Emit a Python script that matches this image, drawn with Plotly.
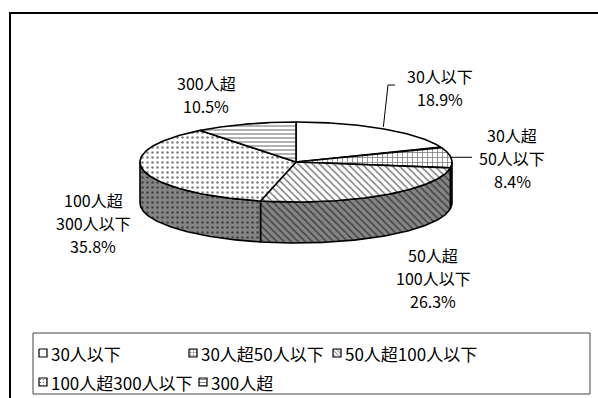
import numpy as np
import plotly.graph_objects as go

# --- data -------------------------------------------------------------
categories = ["30人以下", "30人超50人以下", "50人超100人以下", "100人超300人以下", "300人超"]
shares = [18.9, 8.4, 26.3, 35.8, 10.5]
slice_labels = ["30人以下", "30人超<br>50人以下", "50人超<br>100人以下", "100人超<br>300人以下", "300人超"]

# --- styling ----------------------------------------------------------
FONT = "Noto Sans CJK JP"
W, H = 598, 398
CX, CY = 296, 162          # centre of the top face
RX, RY = 156, 40           # radii of the tilted top ellipse
DEPTH = 41                 # thickness of the cake
LINE_GAP = 23              # spacing between label lines

top_patterns = [
    dict(shape="", bgcolor="white", fgcolor="black"),
    dict(shape="+", bgcolor="white", fgcolor="black", size=5, solidity=0.3),
    dict(shape="\\", bgcolor="white", fgcolor="black", size=5, solidity=0.3),
    dict(shape=".", bgcolor="white", fgcolor="black", size=5, solidity=0.2),
    dict(shape="-", bgcolor="white", fgcolor="black", size=4, solidity=0.3),
]
side_bg = "#858585"

# label anchors: centre x and centre of the first line
label_pos = [(440, 76), (512, 135), (433, 255), (93, 200), (206, 83)]


def rim(t0, t1, n=120):
    t = np.radians(np.linspace(t0, t1, n))
    return CX + RX * np.sin(t), CY - RY * np.cos(t)


total = sum(shares)
edges = np.concatenate([[0], np.cumsum(shares) / total * 360])

fig = go.Figure()

# side walls (only the front half of the cake is visible)
for i in range(len(shares)):
    a, b = max(edges[i], 90), min(edges[i + 1], 270)
    if b <= a:
        continue
    xs, ys = rim(a, b)
    px = np.concatenate([xs, xs[::-1], xs[:1]])
    py = np.concatenate([ys, ys[::-1] + DEPTH, ys[:1]])
    pat = dict(top_patterns[i])
    pat["bgcolor"] = side_bg
    fig.add_trace(go.Scatter(
        x=px, y=py, mode="lines", fill="toself", fillcolor=side_bg,
        fillpattern=pat, line=dict(color="black", width=1.6),
        hoverinfo="skip", showlegend=False))

# top faces
for i in range(len(shares)):
    xs, ys = rim(edges[i], edges[i + 1])
    px = np.concatenate([[CX], xs, [CX]])
    py = np.concatenate([[CY], ys, [CY]])
    fig.add_trace(go.Scatter(
        x=px, y=py, mode="lines", fill="toself", fillcolor="white",
        fillpattern=top_patterns[i], line=dict(color="black", width=1.6),
        name=categories[i], hoverinfo="skip", showlegend=False))

# leader lines for the two labels on the right
mid0 = (edges[0] + edges[1]) / 2
x0, y0 = rim(mid0, mid0, 1)
fig.add_trace(go.Scatter(x=[x0[0], 388, 395], y=[y0[0] - 2, 85, 85], mode="lines",
                         line=dict(color="black", width=1), hoverinfo="skip", showlegend=False))
mid1 = (edges[1] + edges[2]) / 2
x1, y1 = rim(mid1, mid1, 1)
fig.add_trace(go.Scatter(x=[x1[0], 472], y=[y1[0], y1[0]], mode="lines",
                         line=dict(color="black", width=1), hoverinfo="skip", showlegend=False))

annotations = []
for (lx, ly), lab, v in zip(label_pos, slice_labels, shares):
    lines = lab.split("<br>") + [f"{v}%"]
    for k, txt in enumerate(lines):
        annotations.append(dict(
            x=lx, y=ly + k * LINE_GAP, xref="x", yref="y", text=txt, showarrow=False,
            xanchor="center", yanchor="middle",
            font=dict(family=FONT, size=16, color="black")))

# legend: small patterned swatches with captions
legend_slots = [(39, 353), (189, 353), (333, 353), (39, 382), (199, 382)]
SW = 8
for i, (sx, sy) in enumerate(legend_slots):
    pat = dict(top_patterns[i])
    if pat["shape"]:
        pat["size"] = 3
    fig.add_trace(go.Scatter(
        x=[sx, sx + SW, sx + SW, sx, sx], y=[sy - SW / 2, sy - SW / 2, sy + SW / 2, sy + SW / 2, sy - SW / 2],
        mode="lines", fill="toself", fillcolor="white", fillpattern=pat,
        line=dict(color="black", width=1.2), hoverinfo="skip", showlegend=False))
    annotations.append(dict(
        x=sx + SW + 2, y=sy, xref="x", yref="y", text=categories[i], showarrow=False,
        xanchor="left", yanchor="middle",
        font=dict(family=FONT, size=17, color="black")))

shapes = [
    # chart frame running off the page
    dict(type="rect", xref="x", yref="y", x0=10, y0=13, x1=W + 20, y1=H + 20,
         line=dict(color="black", width=2)),
    # legend box
    dict(type="rect", xref="x", yref="y", x0=33, y0=333, x1=590, y1=394,
         line=dict(color="#444", width=1)),
]

fig.update_layout(
    width=W, height=H, margin=dict(l=0, r=0, t=0, b=0),
    paper_bgcolor="white", plot_bgcolor="white", showlegend=False,
    xaxis=dict(range=[0, W], visible=False, fixedrange=True),
    yaxis=dict(range=[H, 0], visible=False, fixedrange=True),
    annotations=annotations, shapes=shapes,
)

fig.write_html("out.html")
